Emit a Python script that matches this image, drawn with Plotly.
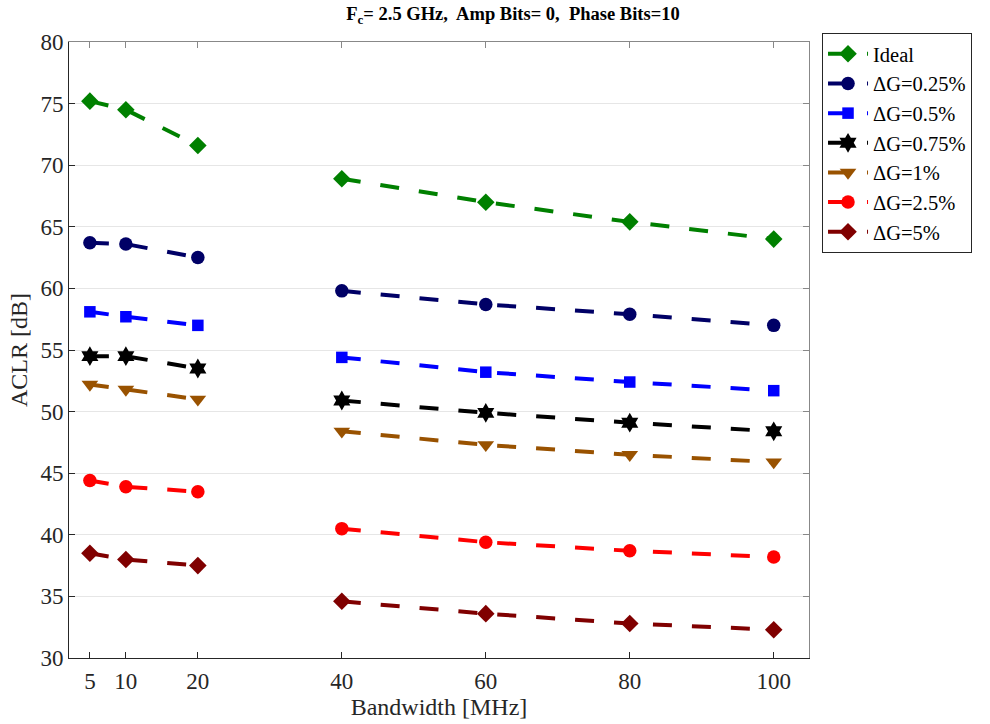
import plotly.graph_objects as go

bandwidth = [5, 10, 20, 40, 60, 80, 100]
x_ticks = [5, 10, 20, 40, 60, 80, 100]
y_ticks = [30, 35, 40, 45, 50, 55, 60, 65, 70, 75, 80]

names = ["Ideal", "ΔG=0.25%", "ΔG=0.5%", "ΔG=0.75%", "ΔG=1%", "ΔG=2.5%", "ΔG=5%"]
ideal   = [75.2, 74.5, 71.6, 68.9, 67.0, 65.4, 64.0]
dg_025  = [63.7, 63.6, 62.5, 59.8, 58.7, 57.9, 57.0]
dg_05   = [58.1, 57.7, 57.0, 54.4, 53.2, 52.4, 51.7]
dg_075  = [54.5, 54.5, 53.5, 50.9, 49.9, 49.1, 48.4]
dg_1    = [52.2, 51.8, 51.0, 48.4, 47.3, 46.5, 45.9]
dg_25   = [44.4, 43.9, 43.5, 40.5, 39.4, 38.7, 38.2]
dg_5    = [38.5, 38.0, 37.5, 34.6, 33.6, 32.8, 32.3]
series = [ideal, dg_025, dg_05, dg_075, dg_1, dg_25, dg_5]

colors = ["#008000", "#000066", "#0000ff", "#000000", "#995200", "#ff0000", "#800000"]
symbols = ["diamond", "circle", "square", "hexagram", "triangle-down", "circle", "diamond"]
sizes = [13.5, 13.5, 11.5, 15, 14.5, 13.5, 13.5]

FONT = "Liberation Serif"
TICKFONT = dict(family=FONT, size=23, color="#262626")
AXTITLEFONT = dict(family=FONT, size=24, color="#262626")

def with_gap(vals):
    # break the line between 20 and 40 MHz
    return list(vals[:3]) + [None] + list(vals[3:])

fig = go.Figure()
for name, vals, c, s, sz in zip(names, series, colors, symbols, sizes):
    fig.add_trace(go.Scatter(
        x=with_gap(bandwidth), y=with_gap(vals), name=name,
        mode="lines+markers", connectgaps=False,
        line=dict(color=c, width=4, dash="19px,20px"),
        marker=dict(symbol=s, size=sz, color=c, line=dict(width=0)),
    ))

# dummy trace for the grey top/right box axes
fig.add_trace(go.Scatter(x=[None], y=[None], xaxis="x2", yaxis="y2",
                         showlegend=False, hoverinfo="skip"))

axis_common = dict(ticks="inside", ticklen=6, showline=True, zeroline=False)

fig.update_layout(
    width=990, height=724,
    margin=dict(l=69, r=181, t=42, b=66),
    paper_bgcolor="white", plot_bgcolor="white",
    font=dict(family=FONT, size=22, color="#262626"),
    title=dict(text="<b>F<sub>c</sub>= 2.5 GHz,  Amp Bits= 0,  Phase Bits=10</b>",
               x=0.6, xref="paper", xanchor="center",
               y=1 - 14 / 724, yref="container", yanchor="middle",
               font=dict(family=FONT, size=18.5, color="black")),
    xaxis=dict(range=[2.1, 104.9], tickvals=x_ticks, showgrid=False,
               linecolor="#262626", linewidth=1, tickcolor="#262626",
               tickfont=TICKFONT, ticklabelstandoff=2,
               title=dict(text="Bandwidth [MHz]", standoff=0, font=AXTITLEFONT),
               **axis_common),
    yaxis=dict(range=[30, 80], tickvals=y_ticks, showgrid=True, gridcolor="#e6e6e6",
               gridwidth=1, linecolor="#262626", linewidth=1, tickcolor="#262626",
               tickfont=TICKFONT,
               title=dict(text="ACLR [dB]", standoff=6, font=AXTITLEFONT),
               **axis_common),
    xaxis2=dict(range=[2.1, 104.9], tickvals=x_ticks, overlaying="x", side="top",
                anchor="y", showticklabels=False, showgrid=False,
                linecolor="#888888", tickcolor="#888888", **axis_common),
    yaxis2=dict(range=[30, 80], tickvals=y_ticks, overlaying="y", side="right",
                anchor="x", showticklabels=False, showgrid=False,
                linecolor="#888888", tickcolor="#888888", **axis_common),
    legend=dict(x=1.0176, y=1.0146, xanchor="left", yanchor="top",
                bordercolor="#262626", borderwidth=1, bgcolor="white",
                font=dict(family=FONT, size=20.5, color="black"),
                tracegroupgap=0, itemwidth=40),
    showlegend=True,
)

fig.write_html("out.html")
